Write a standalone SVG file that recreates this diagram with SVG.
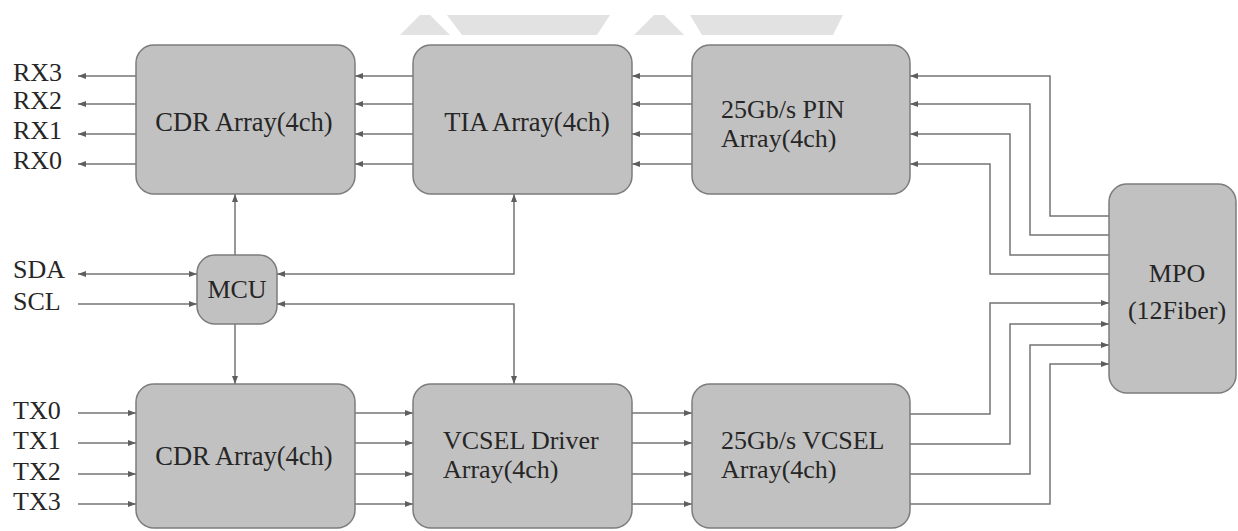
<svg xmlns="http://www.w3.org/2000/svg" width="1238" height="531" viewBox="0 0 1238 531">
<style>
.box{fill:#c1c1c1;stroke:#7c7c7c;stroke-width:1.5}
.t{font-family:"Liberation Serif","Times New Roman",serif;font-size:26px;fill:#262626}
.b{font-size:26.5px}
.m{text-anchor:middle}
.c{fill:none;stroke:#747474;stroke-width:1.5}
.wm{fill:#e2e2e2}
</style>
<defs>
<marker id="a" viewBox="0 0 8 6" refX="8" refY="3" markerWidth="8" markerHeight="6" markerUnits="userSpaceOnUse" orient="auto-start-reverse">
<path d="M0,0 L8,3 L0,6 z" fill="#5e5e5e"/>
</marker>
</defs>
<rect width="1238" height="531" fill="#ffffff"/>
<g id="watermark">
<polygon class="wm" points="400,35 420,15 430,15 450,35"/>
<polygon class="wm" points="447,15 610,15 597,35 462,35"/>
<polygon class="wm" points="634,35 654,15 664,15 684,35"/>
<polygon class="wm" points="690,15 843,15 833,35 702,35"/>
</g>
<g id="connectors">
<path class="c" marker-end="url(#a)" d="M136,76 H78"/>
<path class="c" marker-end="url(#a)" d="M136,104 H78"/>
<path class="c" marker-end="url(#a)" d="M136,134 H78"/>
<path class="c" marker-end="url(#a)" d="M136,164 H78"/>
<path class="c" marker-end="url(#a)" d="M413,76 H355"/>
<path class="c" marker-end="url(#a)" d="M413,104 H355"/>
<path class="c" marker-end="url(#a)" d="M413,134 H355"/>
<path class="c" marker-end="url(#a)" d="M413,164 H355"/>
<path class="c" marker-end="url(#a)" d="M692,76 H632"/>
<path class="c" marker-end="url(#a)" d="M692,104 H632"/>
<path class="c" marker-end="url(#a)" d="M692,134 H632"/>
<path class="c" marker-end="url(#a)" d="M692,164 H632"/>
<path class="c" marker-end="url(#a)" d="M1109,216 H1050 V76 H910"/>
<path class="c" marker-end="url(#a)" d="M1109,235 H1030 V104 H910"/>
<path class="c" marker-end="url(#a)" d="M1109,255 H1010 V134 H910"/>
<path class="c" marker-end="url(#a)" d="M1109,274 H990 V164 H910"/>
<path class="c" marker-end="url(#a)" d="M78,413 H136"/>
<path class="c" marker-end="url(#a)" d="M78,443 H136"/>
<path class="c" marker-end="url(#a)" d="M78,474 H136"/>
<path class="c" marker-end="url(#a)" d="M78,504 H136"/>
<path class="c" marker-end="url(#a)" d="M355,413 H413"/>
<path class="c" marker-end="url(#a)" d="M355,443 H413"/>
<path class="c" marker-end="url(#a)" d="M355,474 H413"/>
<path class="c" marker-end="url(#a)" d="M355,504 H413"/>
<path class="c" marker-end="url(#a)" d="M632,413 H692"/>
<path class="c" marker-end="url(#a)" d="M632,443 H692"/>
<path class="c" marker-end="url(#a)" d="M632,474 H692"/>
<path class="c" marker-end="url(#a)" d="M632,504 H692"/>
<path class="c" marker-end="url(#a)" d="M910,414 H990 V303 H1109"/>
<path class="c" marker-end="url(#a)" d="M910,444 H1010 V324 H1109"/>
<path class="c" marker-end="url(#a)" d="M910,474 H1030 V345 H1109"/>
<path class="c" marker-end="url(#a)" d="M910,504 H1050 V364 H1109"/>
<path class="c" marker-start="url(#a)" marker-end="url(#a)" d="M78,274 H197"/>
<path class="c" marker-end="url(#a)" d="M78,304 H197"/>
<path class="c" marker-start="url(#a)" marker-end="url(#a)" d="M277,274 H514 V194"/>
<path class="c" marker-start="url(#a)" marker-end="url(#a)" d="M277,304 H514 V384"/>
<path class="c" marker-end="url(#a)" d="M235,255 V194"/>
<path class="c" marker-end="url(#a)" d="M235,324 V384"/>
</g>
<g id="labels">
<text class="t" x="13" y="81">RX3</text>
<text class="t" x="13" y="109">RX2</text>
<text class="t" x="13" y="139">RX1</text>
<text class="t" x="13" y="169">RX0</text>
<text class="t" x="13" y="278">SDA</text>
<text class="t" x="13" y="310">SCL</text>
<text class="t" x="13" y="419">TX0</text>
<text class="t" x="13" y="449">TX1</text>
<text class="t" x="13" y="480">TX2</text>
<text class="t" x="13" y="510">TX3</text>
</g>
<g id="cdr-rx">
<rect class="box" x="136" y="45" width="219" height="149" rx="18"/>
<text class="t b m" x="244" y="131">CDR Array(4ch)</text>
</g>
<g id="tia">
<rect class="box" x="413" y="45" width="219" height="149" rx="18"/>
<text class="t b m" x="527" y="131">TIA Array(4ch)</text>
</g>
<g id="pin">
<rect class="box" x="692" y="45" width="218" height="149" rx="18"/>
<text class="t" x="721" y="118">25Gb/s PIN</text>
<text class="t" x="721" y="147">Array(4ch)</text>
</g>
<g id="mcu">
<rect class="box" x="197" y="255" width="80" height="69" rx="18"/>
<text class="t m" x="237" y="298">MCU</text>
</g>
<g id="cdr-tx">
<rect class="box" x="136" y="384" width="219" height="144" rx="18"/>
<text class="t b m" x="244" y="465">CDR Array(4ch)</text>
</g>
<g id="vcsel-driver">
<rect class="box" x="413" y="384" width="219" height="144" rx="18"/>
<text class="t" x="443" y="449">VCSEL Driver</text>
<text class="t" x="443" y="478">Array(4ch)</text>
</g>
<g id="vcsel">
<rect class="box" x="692" y="384" width="218" height="144" rx="18"/>
<text class="t" x="721" y="449">25Gb/s VCSEL</text>
<text class="t" x="721" y="478">Array(4ch)</text>
</g>
<g id="mpo">
<rect class="box" x="1109" y="184" width="127" height="209" rx="18"/>
<text class="t m" x="1177" y="282">MPO</text>
<text class="t m" x="1177" y="319">(12Fiber)</text>
</g>
</svg>
